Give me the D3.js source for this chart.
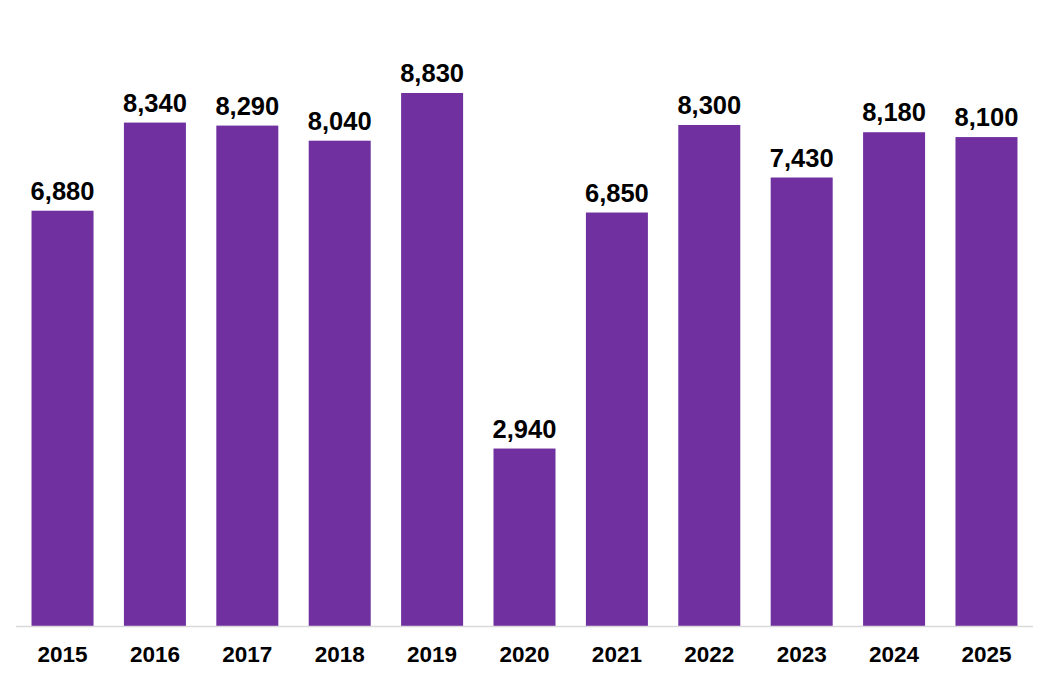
<!DOCTYPE html>
<html><head><meta charset="utf-8">
<script src="https://cdn.jsdelivr.net/npm/d3@7"></script>
<style>html,body{margin:0;padding:0;background:#fff;}svg{display:block;}</style>
</head><body>
<svg id="chart" width="1042" height="681"></svg>
<script>
const years = ["2015","2016","2017","2018","2019","2020","2021","2022","2023","2024","2025"];
const values = [6880, 8340, 8290, 8040, 8830, 2940, 6850, 8300, 7430, 8180, 8100];

const W = 1042, H = 681;
const baseY = 626;
const svg = d3.select("#chart");

const x = d3.scaleBand().domain(years).range([16, 1033]).paddingInner(0.329).paddingOuter(0.168);
const y = d3.scaleLinear().domain([0, 8830]).range([baseY, 93]);

svg.selectAll("rect.bar").data(values).join("rect")
  .attr("class","bar")
  .attr("x",(d,i)=>x(years[i]))
  .attr("y",d=>y(d))
  .attr("width",x.bandwidth())
  .attr("height",d=>baseY-y(d))
  .attr("fill","#7030A0");

svg.append("line").attr("x1",16).attr("x2",1033).attr("y1",baseY+0.5).attr("y2",baseY+0.5)
  .attr("stroke","#d9d9d9").attr("stroke-width",1.5);

const fmt = d3.format(",");
svg.selectAll("text.val").data(values).join("text")
  .attr("class","val")
  .attr("x",(d,i)=>x(years[i])+x.bandwidth()/2)
  .attr("y",d=>y(d)-11)
  .attr("text-anchor","middle")
  .attr("font-family","'Liberation Sans', Arial, sans-serif")
  .attr("font-weight","bold")
  .attr("font-size","25.5px")
  .attr("fill","#000")
  .text(d=>fmt(d));

const xAxis = d3.axisBottom(x).tickSize(0).tickPadding(0);
const gx = svg.append("g").attr("transform",`translate(0,${baseY})`).call(xAxis);
gx.select(".domain").remove();
gx.selectAll("text")
  .attr("y",36).attr("dy",0)
  .attr("font-family","'Liberation Sans', Arial, sans-serif")
  .attr("font-weight","bold")
  .attr("font-size","22.5px")
  .attr("fill","#000");
</script>
</body></html>
